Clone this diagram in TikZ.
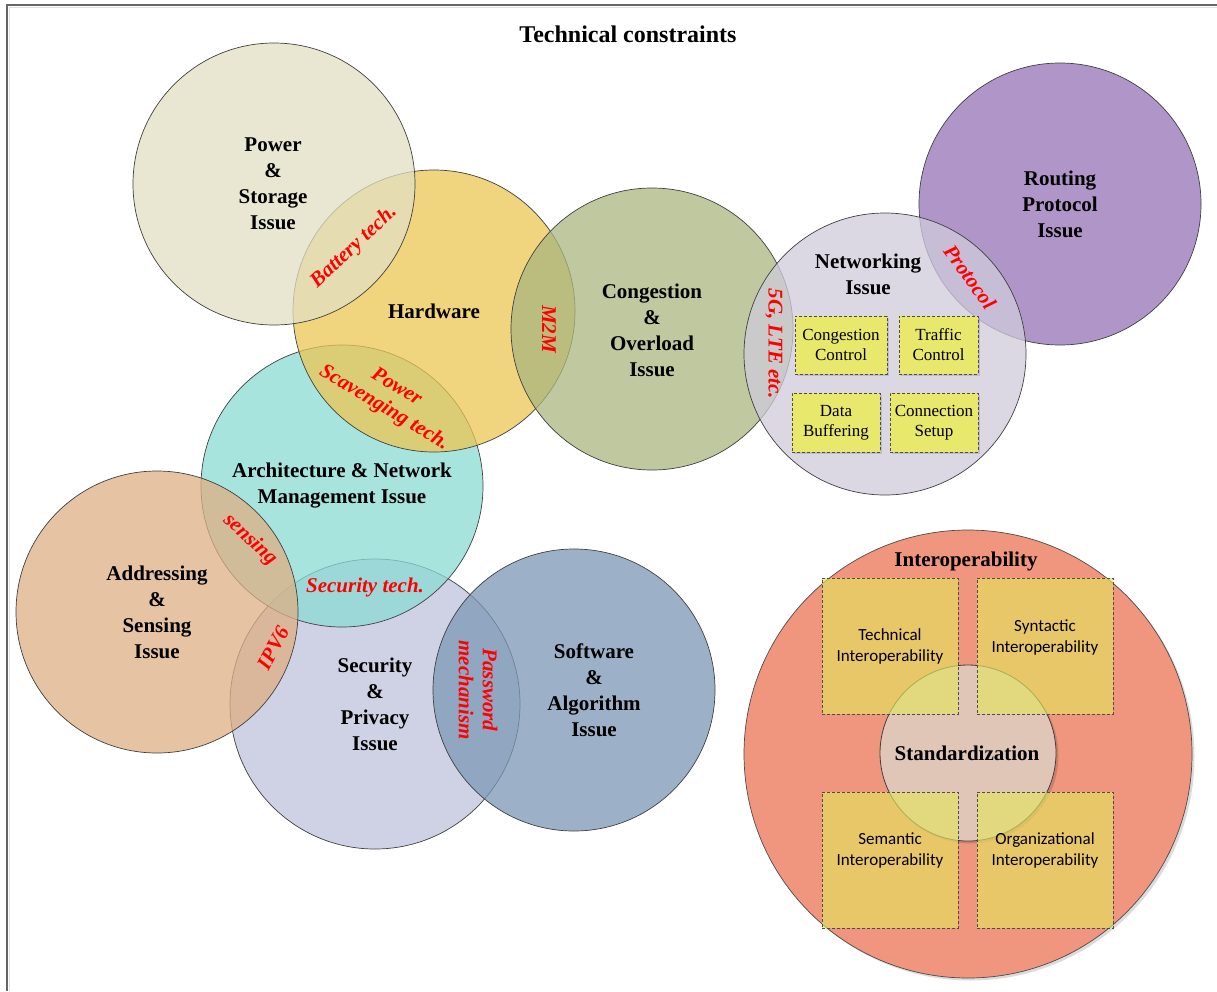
\documentclass[tikz,border=0pt]{standalone}
\usepackage{fontspec}
\usetikzlibrary{shadows}
\setmainfont{Liberation Serif}
\newfontfamily\calib{Carlito}
\definecolor{cPower}{HTML}{E2DFC3}
\definecolor{cHard}{HTML}{EBC653}
\definecolor{cCong}{HTML}{AAB680}
\definecolor{cNet}{HTML}{D0CBDB}
\definecolor{cRout}{HTML}{9674B6}
\definecolor{cArch}{HTML}{8BDBD4}
\definecolor{cAddr}{HTML}{DEAF83}
\definecolor{cSec}{HTML}{C0C4DB}
\definecolor{cSoft}{HTML}{7C98B6}
\definecolor{cInter}{HTML}{F0957E}
\definecolor{cStd}{HTML}{DFC6B6}
\definecolor{cIbox}{HTML}{E4E35F}
\definecolor{cNbox}{HTML}{E8E86C}
\definecolor{cRed}{HTML}{FF0000}
\begin{document}
\begin{tikzpicture}[x=1pt,y=-1pt,
  shad/.style={drop shadow={shadow xshift=2.5pt, shadow yshift=-2.5pt, opacity=0.14, fill=black}},
  bub/.style={circle, draw=black!75, line width=0.7pt, fill opacity=0.75, minimum size=282pt, inner sep=0pt},
  lbl/.style={font=\fontsize{21}{26}\selectfont\bfseries, align=center, text=black, inner sep=0pt},
  redlbl/.style={font=\fontsize{21}{24}\selectfont\bfseries\itshape, align=center, text=cRed, inner sep=0pt},
  nbox/.style={draw=black!70, dash pattern=on 3pt off 2pt, line width=0.7pt, fill=cNbox, inner sep=0pt, drop shadow={shadow xshift=2pt, shadow yshift=-2pt, opacity=0.12, fill=black}},
  nboxtxt/.style={font=\fontsize{17}{20}\selectfont, align=center, inner sep=0pt},
  ibox/.style={draw=black!70, dash pattern=on 3pt off 2pt, line width=0.7pt, fill=cIbox, fill opacity=0.65, minimum width=136pt, minimum height=136pt, inner sep=0pt},
  iboxtxt/.style={font=\calib\fontsize{17}{21}\selectfont, align=center, inner sep=0pt}
]
\useasboundingbox (0,0) rectangle (1217,991);
\fill[white] (0,0) rectangle (1217,991);
% frame
\draw[black!60, line width=1.3pt] (7,991) -- (7,5) -- (1217,5);
\draw[black!12, line width=1.5pt] (9.5,991) -- (9.5,7.5) -- (1217,7.5);

% title
\node[lbl, font=\fontsize{24}{28}\selectfont\bfseries] (title) at (628,34) {Technical constraints};

% circles (draw order matters)
\node[bub, fill=cSec, minimum size=290pt] (sec) at (375,704) {};
\node[bub, fill=cSoft] (soft) at (574,690) {};
\node[bub, fill=cArch] (arch) at (342,486) {};
\node[bub, fill=cAddr] (addr) at (157,612) {};
\node[bub, fill=cHard] (hard) at (434,311) {};
\node[bub, fill=cPower] (pow) at (274,184) {};
\node[bub, fill=cCong] (cong) at (652,329) {};
\node[bub, fill=cRout] (rout) at (1060,204) {};
\node[bub, fill=cNet] (net) at (885,354) {};

% networking boxes
\node[nbox, minimum width=92pt, minimum height=58pt] (cc) at (841,345) {};
\node[nbox, minimum width=79pt, minimum height=58pt] (tc) at (938.5,345) {};
\node[nbox, minimum width=88pt, minimum height=59pt] (db) at (836,422.5) {};
\node[nbox, minimum width=88pt, minimum height=59pt] (cs) at (934,422.5) {};
\node[nboxtxt] (cct) at (cc) {Congestion\\Control};
\node[nboxtxt] (tct) at (tc) {Traffic\\Control};
\node[nboxtxt] (dbt) at (db) {Data\\Buffering};
\node[nboxtxt] (cst) at (cs) {Connection\\Setup};

% interoperability
\node[circle, draw=black!70, line width=0.7pt, fill=cInter, minimum size=448pt, inner sep=0pt, shad] (inter) at (968,754) {};
\node[circle, draw=black!75, line width=0.8pt, fill=cStd, minimum size=176pt, inner sep=0pt, shad] (std) at (968,753) {};
\node[ibox] (tech) at (890,646) {};
\node[ibox] (synt) at (1045,646) {};
\node[ibox] (sem) at (890,860) {};
\node[ibox] (org) at (1045,860) {};
\node[iboxtxt] (techt) at (890,646) {Technical\\Interoperability};
\node[iboxtxt] (syntt) at (1045,637) {Syntactic\\Interoperability};
\node[iboxtxt] (semt) at (890,850) {Semantic\\Interoperability};
\node[iboxtxt] (orgt) at (1045,850) {Organizational\\Interoperability};
\node[lbl] (intert) at (966,561) {Interoperability};
\node[lbl] (stdt) at (967,753) {Standardization};

% main labels
\node[lbl] (powt) at (273,184) {Power\\\&\\Storage\\Issue};
\node[lbl] (hardt) at (434,311) {Hardware};
\node[lbl] (congt) at (652,330) {Congestion\\\&\\Overload\\Issue};
\node[lbl] (nett) at (868,274) {Networking\\Issue};
\node[lbl] (routt) at (1060,204) {Routing\\Protocol\\Issue};
\node[lbl] (archt) at (342,486) {Architecture \& Network\\Management Issue};
\node[lbl] (addrt) at (157,612) {Addressing\\\&\\Sensing\\Issue};
\node[lbl] (sect) at (375,704) {Security\\\&\\Privacy\\Issue};
\node[lbl] (softt) at (594,690) {Software\\\&\\Algorithm\\Issue};

% intersection labels
\node[redlbl, rotate=43] (batt) at (354,247) {Battery tech.};
\node[redlbl, rotate=-90] (m2m) at (549,329) {M2M};
\node[redlbl, rotate=-31] (scav) at (390,398) {Power\\Scavenging tech.};
\node[redlbl, rotate=-90] (lte) at (774,344) {5G, LTE etc.};
\node[redlbl, rotate=-54] (prot) at (970,277) {Protocol};
\node[redlbl, rotate=-43] (sens) at (250,540) {sensing};
\node[redlbl] (sectech) at (365,587) {Security tech.};
\node[redlbl, rotate=62] (ipv) at (273,648) {IPV6};
\node[redlbl, rotate=-90] (pass) at (478,690) {Password\\mechanism};
\end{tikzpicture}
\end{document}
